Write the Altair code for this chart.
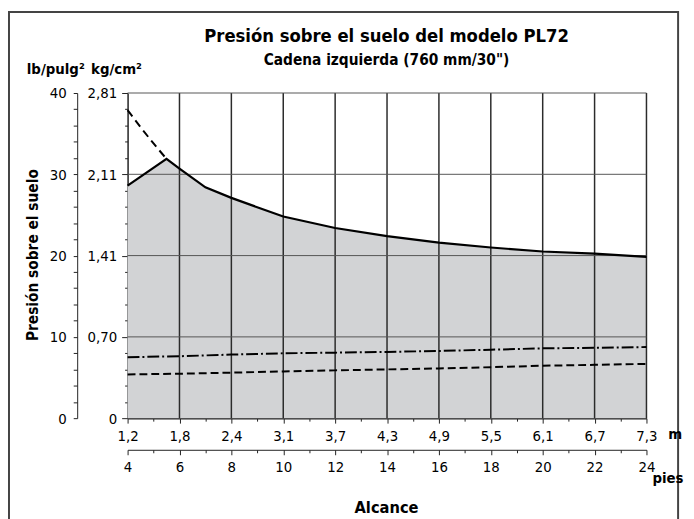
import json
import altair as alt
import pandas as pd

# ---------------- data ----------------
feet_solid = [4, 5.5, 6, 7, 8, 10, 12, 14, 16, 18, 20, 22, 24]
pressure_solid = [28.6, 31.9, 30.7, 28.4, 27.1, 24.8, 23.4, 22.4, 21.6, 21.0, 20.5, 20.25, 19.85]

feet_upper = [4, 4.5, 5, 5.5]
pressure_upper = [37.9, 35.8, 33.8, 31.9]

feet_low = [4, 6, 8, 10, 12, 14, 16, 18, 20, 22, 24]
pressure_dashdot = [7.5, 7.62, 7.82, 7.98, 8.06, 8.15, 8.27, 8.42, 8.59, 8.66, 8.75]
pressure_dashed = [5.38, 5.47, 5.6, 5.75, 5.88, 6.0, 6.12, 6.27, 6.45, 6.56, 6.68]

m_labels = ["1,2", "1,8", "2,4", "3,1", "3,7", "4,3", "4,9", "5,5", "6,1", "6,7", "7,3"]
kg_labels = ["0", "0,70", "1,41", "2,11", "2,81"]
grid_x = [6, 8, 10, 12, 14, 16, 18, 20, 22, 24]
grid_y = [10, 20, 30, 40]

title_text = "Presión sobre el suelo del modelo PL72"
subtitle_text = "Cadena izquierda (760 mm/30\")"
y_title = "Presión sobre el suelo"
x_title = "Alcance"

FONT = "Liberation Sans Narrow, DejaVu Sans Condensed, Arial Narrow, sans-serif"

df_solid = pd.DataFrame({"ft": feet_solid, "p": pressure_solid})
df_upper = pd.DataFrame({"ft": feet_upper, "p": pressure_upper})
df_low = pd.DataFrame({"ft": feet_low, "dd": pressure_dashdot, "d": pressure_dashed})
df_gx = pd.DataFrame({"ft": grid_x})
df_gy = pd.DataFrame({"p": grid_y})

xs = alt.Scale(domain=[4, 24], nice=False, zero=False)
ys = alt.Scale(domain=[0, 40], nice=False, zero=True)

tick_major_x = {"condition": {"test": "datum.value % 2 == 0", "value": 5}, "value": 3}
tick_major_y = {"condition": {"test": "datum.value % 10 == 0", "value": 6}, "value": 3}

m_expr = "datum.value % 2 == 0 ? " + json.dumps(m_labels) + "[(datum.value - 4) / 2] : ''"
ft_expr = "datum.value % 2 == 0 ? datum.value + '' : ''"
kg_expr = "datum.value % 10 == 0 ? " + json.dumps(kg_labels) + "[datum.value / 10] : ''"
lb_expr = "datum.value % 10 == 0 ? datum.value + '' : ''"

axis_common = dict(grid=False, labelFont=FONT, labelFontSize=15, labelColor="black",
                   domainColor="#222", tickColor="#222", labelFlush=False,
                   labelOverlap=False, title=None)

axis_m = alt.Axis(orient="bottom", offset=0, values=list(range(4, 25)), labelExpr=m_expr,
                  tickSize=tick_major_x, labelPadding=6, domainWidth=1.5, **axis_common)
axis_ft = alt.Axis(orient="bottom", offset=32, values=list(range(4, 25)), labelExpr=ft_expr,
                   tickSize=tick_major_x, labelPadding=5, domainWidth=1, **axis_common)
axis_kg = alt.Axis(orient="left", offset=0, values=list(range(0, 41, 2)), labelExpr=kg_expr,
                   tickSize=tick_major_y, labelPadding=5, domainWidth=1.5, **axis_common)
axis_lb = alt.Axis(orient="left", offset=51, values=list(range(0, 41, 2)), labelExpr=lb_expr,
                   tickSize=4, labelPadding=7, domainWidth=1, **axis_common)

area = alt.Chart(df_solid).mark_area(color="#d2d3d5", opacity=1).encode(
    x=alt.X("ft:Q", scale=xs, axis=axis_m),
    y=alt.Y("p:Q", scale=ys, axis=axis_kg),
)

gx = alt.Chart(df_gx).mark_rule(color="#2b2b2b", strokeWidth=1.5).encode(
    x=alt.X("ft:Q", scale=xs, axis=axis_ft),
    y=alt.datum(0, scale=ys, axis=axis_lb),
    y2=alt.datum(40),
)
gy = alt.Chart(df_gy).mark_rule(color="#555", strokeWidth=1).encode(
    y=alt.Y("p:Q", scale=ys, axis=None),
    x=alt.datum(4, scale=xs, axis=None),
    x2=alt.datum(24),
)

solid = alt.Chart(df_solid).mark_line(color="black", strokeWidth=2.2).encode(
    x=alt.X("ft:Q", scale=xs, axis=None), y=alt.Y("p:Q", scale=ys, axis=None))
upper = alt.Chart(df_upper).mark_line(color="black", strokeWidth=2, strokeDash=[8, 5], interpolate="monotone").encode(
    x=alt.X("ft:Q", scale=xs, axis=None), y=alt.Y("p:Q", scale=ys, axis=None))
dashdot = alt.Chart(df_low).mark_line(color="black", strokeWidth=2, strokeDash=[12, 3, 2, 3]).encode(
    x=alt.X("ft:Q", scale=xs, axis=None), y=alt.Y("dd:Q", scale=ys, axis=None))
dashed = alt.Chart(df_low).mark_line(color="black", strokeWidth=2, strokeDash=[8, 4]).encode(
    x=alt.X("ft:Q", scale=xs, axis=None), y=alt.Y("d:Q", scale=ys, axis=None))

def label(text, x, y, size, weight="bold", align="left", angle=0, baseline="alphabetic"):
    kw = dict(text=text, font=FONT, fontSize=size, fontWeight=weight, align=align,
              baseline=baseline, color="black")
    if angle:
        kw["angle"] = angle
    return alt.Chart(pd.DataFrame({"a": [0]})).mark_text(**kw).encode(
        x=alt.value(x), y=alt.value(y))

texts = [
    label(title_text, 262, -52, 18.5, align="center"),
    label(subtitle_text, 262, -28, 15.5, align="center"),
    label("lb/pulg²", -102, -19, 15),
    label("kg/cm²", -37, -19, 15),
    label(y_title, -96, 164, 15.5, align="center", angle=270, baseline="middle"),
    label(x_title, 262, 425, 16.5, align="center"),
    label("m", 547, 350, 15),
    label("pies", 531, 395, 15),
]

frame = alt.Chart(pd.DataFrame({"a": [0]})).mark_rect(
    fill=None, fillOpacity=0, stroke="#444", strokeWidth=2).encode(
    x=alt.value(-120), x2=alt.value(557), y=alt.value(-82), y2=alt.value(600))

chart = alt.layer(area, gx, gy, solid, upper, dashdot, dashed, frame, *texts).resolve_axis(
    x="independent", y="independent"
).properties(
    width=525, height=329,
    padding={"left": 121, "top": 83, "right": 40, "bottom": 99},
    autosize=alt.AutoSizeParams(type="none"),
    background="white",
).configure_view(stroke=None)

chart.save("out.html", embed_options={"renderer": "svg", "actions": False})
